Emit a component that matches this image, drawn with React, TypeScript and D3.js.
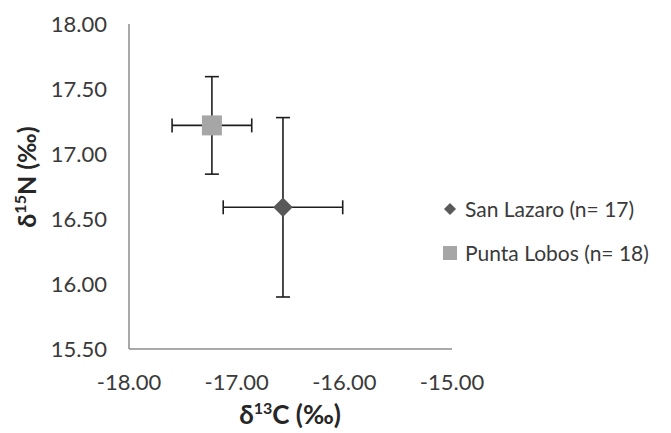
import React, { useEffect, useRef } from 'react';
import * as d3 from 'd3';

// site names, means and standard deviations
const sites = ["San Lazaro (n= 17)", "Punta Lobos (n= 18)"];
const meanC = [-16.57, -17.23];
const meanN = [16.59, 17.22];
const sdC = [0.555, 0.37];
const sdN = [0.69, 0.375];
const markerColors = ["#595959", "#a6a6a6"];
const markerShapes = ["diamond", "square"];

const xTicks = [-18, -17, -16, -15];
const yTicks = [15.5, 16, 16.5, 17, 17.5, 18];

export default function App() {
    const ref = useRef<SVGSVGElement>(null);

    useEffect(() => {
        const width = 671;
        const height = 433;
        const svg = d3.select(ref.current);
        svg.selectAll("*").remove();

        const xScale = d3.scaleLinear().domain([-18, -15]).range([129, 452]);
        const yScale = d3.scaleLinear().domain([15.5, 18]).range([349, 24]);

        svg.attr("width", width).attr("height", height)
            .style("font-family", "Lato, 'Open Sans', sans-serif");

        // axes lines
        svg.append("line")
            .attr("x1", xScale(-18)).attr("x2", xScale(-18))
            .attr("y1", yScale(15.5)).attr("y2", yScale(18))
            .attr("stroke", "#8c8c8c").attr("stroke-width", 1.5);
        svg.append("line")
            .attr("x1", xScale(-18)).attr("x2", xScale(-15))
            .attr("y1", yScale(15.5)).attr("y2", yScale(15.5))
            .attr("stroke", "#8c8c8c").attr("stroke-width", 1.5);

        // tick labels
        svg.append("g").selectAll("text")
            .data(yTicks)
            .enter()
            .append("text")
            .attr("x", 107)
            .attr("y", d => yScale(d))
            .attr("dy", "0.36em")
            .attr("text-anchor", "end")
            .attr("font-size", 22)
            .attr("fill", "#3a3a3a")
            .text(d => d.toFixed(2));

        svg.append("g").selectAll("text")
            .data(xTicks)
            .enter()
            .append("text")
            .attr("x", d => xScale(d))
            .attr("y", 382)
            .attr("dy", "0.36em")
            .attr("text-anchor", "middle")
            .attr("font-size", 22)
            .attr("fill", "#3a3a3a")
            .text(d => d.toFixed(2));

        // axis titles
        const xTitle = svg.append("text")
            .attr("x", 290)
            .attr("y", 424)
            .attr("text-anchor", "middle")
            .attr("font-size", 26)
            .attr("font-weight", "bold")
            .attr("fill", "#262626");
        xTitle.append("tspan").text("δ");
        xTitle.append("tspan").attr("font-size", 16).attr("dy", -10).text("13");
        xTitle.append("tspan").attr("dy", 10).text("C (‰)");

        const yTitle = svg.append("text")
            .attr("transform", "translate(36,177) rotate(-90)")
            .attr("text-anchor", "middle")
            .attr("font-size", 25)
            .attr("font-weight", "bold")
            .attr("fill", "#262626");
        yTitle.append("tspan").text("δ");
        yTitle.append("tspan").attr("font-size", 16).attr("dy", -10).text("15");
        yTitle.append("tspan").attr("dy", 10).text("N (‰)");

        // error bars
        const data = sites.map((s, i) => ({
            name: s, c: meanC[i], n: meanN[i], sc: sdC[i], sn: sdN[i],
            color: markerColors[i], shape: markerShapes[i]
        }));
        const cap = 7;
        const bars = svg.append("g")
            .attr("stroke", "#1e1e1e")
            .attr("stroke-width", 1.6);
        data.forEach(d => {
            const cx = xScale(d.c), cy = yScale(d.n);
            const x0 = xScale(d.c - d.sc), x1 = xScale(d.c + d.sc);
            const y0 = yScale(d.n - d.sn), y1 = yScale(d.n + d.sn);
            bars.append("line").attr("x1", x0).attr("x2", x1).attr("y1", cy).attr("y2", cy);
            bars.append("line").attr("x1", x0).attr("x2", x0).attr("y1", cy - cap).attr("y2", cy + cap);
            bars.append("line").attr("x1", x1).attr("x2", x1).attr("y1", cy - cap).attr("y2", cy + cap);
            bars.append("line").attr("x1", cx).attr("x2", cx).attr("y1", y0).attr("y2", y1);
            bars.append("line").attr("x1", cx - cap).attr("x2", cx + cap).attr("y1", y0).attr("y2", y0);
            bars.append("line").attr("x1", cx - cap).attr("x2", cx + cap).attr("y1", y1).attr("y2", y1);
        });

        // markers
        const diamond = d3.symbol().type(d3.symbolSquare).size(190);
        const square = d3.symbol().type(d3.symbolSquare).size(400);
        svg.append("g").selectAll("path")
            .data(data)
            .enter()
            .append("path")
            .attr("d", d => d.shape === "diamond" ? diamond() : square())
            .attr("transform", d => `translate(${xScale(d.c)},${yScale(d.n)})` + (d.shape === "diamond" ? " rotate(45)" : ""))
            .attr("fill", d => d.color);

        // legend
        const legendDiamond = d3.symbol().type(d3.symbolSquare).size(72);
        const legendSquare = d3.symbol().type(d3.symbolSquare).size(196);
        const legend = svg.append("g")
            .selectAll("g")
            .data(data)
            .enter()
            .append("g")
            .attr("transform", (d, i) => `translate(450,${209 + i * 44})`);
        legend.append("path")
            .attr("d", d => d.shape === "diamond" ? legendDiamond() : legendSquare())
            .attr("transform", d => d.shape === "diamond" ? "rotate(45)" : "")
            .attr("fill", d => d.color);
        legend.append("text")
            .attr("x", 15)
            .attr("dy", "0.36em")
            .attr("font-size", 21)
            .attr("fill", "#3a3a3a")
            .text(d => d.name);
    }, []);

    return <svg ref={ref} style={{ position: "absolute", left: 0, top: 0 }}></svg>;
}
